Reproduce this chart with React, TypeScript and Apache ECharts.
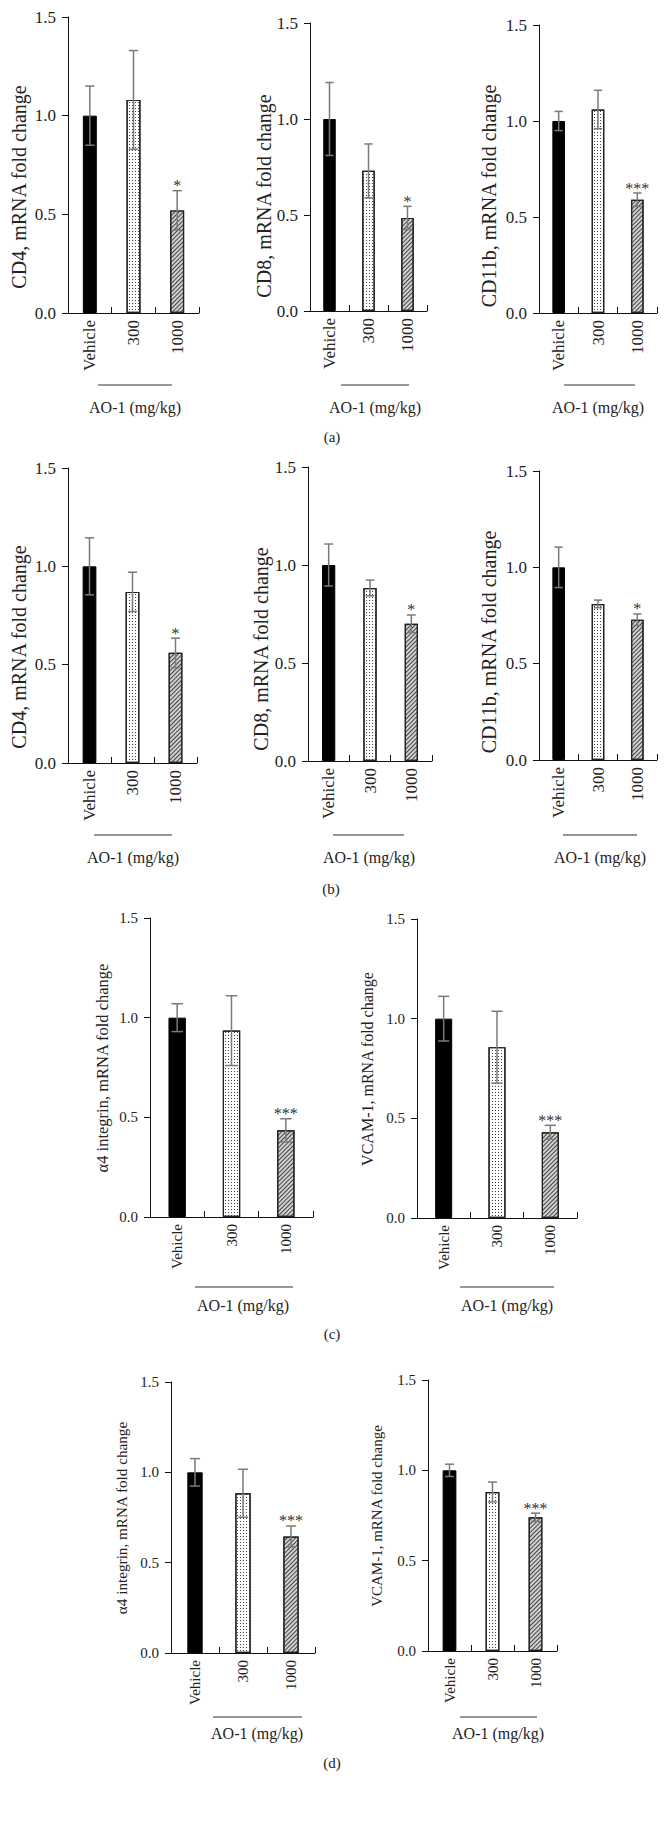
import React, { useEffect, useRef } from "react";
import * as echarts from "echarts";

// ---------- data ----------
const categories = ["Vehicle", "300", "1000"];
const yTickValues = [0, 0.5, 1.0, 1.5];
const groupLabel = "AO-1 (mg/kg)";
const panelLetters = ["(a)", "(b)", "(c)", "(d)"];

// (a)
const aCD4Mean = [1.0, 1.08, 0.52];
const aCD4Err = [0.15, 0.25, 0.1];
const aCD4Stars = ["", "", "*"];
const aCD8Mean = [1.0, 0.73, 0.485];
const aCD8Err = [0.19, 0.14, 0.06];
const aCD8Stars = ["", "", "*"];
const aCD11bMean = [1.0, 1.06, 0.59];
const aCD11bErr = [0.05, 0.1, 0.035];
const aCD11bStars = ["", "", "***"];
// (b)
const bCD4Mean = [1.0, 0.87, 0.56];
const bCD4Err = [0.145, 0.1, 0.075];
const bCD4Stars = ["", "", "*"];
const bCD8Mean = [1.0, 0.883, 0.7];
const bCD8Err = [0.107, 0.04, 0.045];
const bCD8Stars = ["", "", "*"];
const bCD11bMean = [1.0, 0.81, 0.728];
const bCD11bErr = [0.105, 0.02, 0.03];
const bCD11bStars = ["", "", "*"];
// (c)
const cA4Mean = [1.0, 0.935, 0.435];
const cA4Err = [0.07, 0.175, 0.058];
const cA4Stars = ["", "", "***"];
const cVCAMMean = [1.0, 0.857, 0.43];
const cVCAMErr = [0.112, 0.18, 0.035];
const cVCAMStars = ["", "", "***"];
// (d)
const dA4Mean = [1.0, 0.884, 0.645];
const dA4Err = [0.076, 0.133, 0.058];
const dA4Stars = ["", "", "***"];
const dVCAMMean = [1.0, 0.88, 0.74];
const dVCAMErr = [0.034, 0.055, 0.023];
const dVCAMStars = ["", "", "***"];

// ---------- layout ----------
const FONT = "'Liberation Serif', 'Times New Roman', serif";
const TEXT = "#222";

const panels = [
  { title: "CD4, mRNA fold change", mean: aCD4Mean, err: aCD4Err, stars: aCD4Stars,
    grid: { left: 68, top: 17, width: 131, height: 296 }, tp: [19, 187], ts: 20, fs: 17,
    ao: { x1: 98, x2: 172, y: 385, lx: 135, ly: 407 } },
  { title: "CD8, mRNA fold change", mean: aCD8Mean, err: aCD8Err, stars: aCD8Stars,
    grid: { left: 310, top: 23, width: 117, height: 288 }, tp: [264, 196], ts: 20, fs: 17,
    ao: { x1: 341, x2: 409, y: 385, lx: 375, ly: 407 } },
  { title: "CD11b, mRNA fold change", mean: aCD11bMean, err: aCD11bErr, stars: aCD11bStars,
    grid: { left: 539, top: 25, width: 118, height: 288 }, tp: [489, 196], ts: 20, fs: 17,
    ao: { x1: 564, x2: 635, y: 385, lx: 598, ly: 407 } },
  { title: "CD4, mRNA fold change", mean: bCD4Mean, err: bCD4Err, stars: bCD4Stars,
    grid: { left: 68, top: 468, width: 129, height: 295 }, tp: [19, 647], ts: 20, fs: 17,
    ao: { x1: 94, x2: 172, y: 835, lx: 133, ly: 857 } },
  { title: "CD8, mRNA fold change", mean: bCD8Mean, err: bCD8Err, stars: bCD8Stars,
    grid: { left: 308, top: 467, width: 124, height: 294 }, tp: [261, 649], ts: 20, fs: 17,
    ao: { x1: 333, x2: 404, y: 835, lx: 369, ly: 857 } },
  { title: "CD11b, mRNA fold change", mean: bCD11bMean, err: bCD11bErr, stars: bCD11bStars,
    grid: { left: 539, top: 471, width: 118, height: 289 }, tp: [489, 642], ts: 20, fs: 17,
    ao: { x1: 563, x2: 637, y: 835, lx: 600, ly: 857 } },
  { title: "α4 integrin, mRNA fold change", mean: cA4Mean, err: cA4Err, stars: cA4Stars,
    grid: { left: 150, top: 918, width: 163, height: 299 }, tp: [102, 1068], ts: 16.5, fs: 15,
    ao: { x1: 195, x2: 293, y: 1287, lx: 243, ly: 1305 } },
  { title: "VCAM-1, mRNA fold change", mean: cVCAMMean, err: cVCAMErr, stars: cVCAMStars,
    grid: { left: 417, top: 919, width: 160, height: 299 }, tp: [367, 1069], ts: 16, fs: 15,
    ao: { x1: 460, x2: 554, y: 1287, lx: 507, ly: 1305 } },
  { title: "α4 integrin, mRNA fold change", mean: dA4Mean, err: dA4Err, stars: dA4Stars,
    grid: { left: 171, top: 1382, width: 144, height: 271 }, tp: [121, 1518], ts: 15.2, fs: 15,
    ao: { x1: 213, x2: 302, y: 1717, lx: 257, ly: 1733 } },
  { title: "VCAM-1, mRNA fold change", mean: dVCAMMean, err: dVCAMErr, stars: dVCAMStars,
    grid: { left: 428, top: 1380, width: 129, height: 271 }, tp: [377, 1516], ts: 15, fs: 15,
    ao: { x1: 460, x2: 537, y: 1717, lx: 498, ly: 1733 } },
];
const letterPos = [
  [332, 437],
  [331, 889],
  [332, 1334],
  [332, 1763],
];

const dotDecal = {
  symbol: "rect",
  symbolSize: 1,
  dashArrayX: [1, 2],
  dashArrayY: [1, 2],
  color: "#444",
  backgroundColor: "#ffffff",
};
const hatchDecal = {
  symbol: "rect",
  symbolSize: 1,
  dashArrayX: [1, 0],
  dashArrayY: [1, 2],
  rotation: -Math.PI / 4,
  color: "#444",
  backgroundColor: "#e6e6e6",
};
const barStyles = [
  { color: "#000000", borderColor: "#000", borderWidth: 1 },
  { color: "#ffffff", borderColor: "#222", borderWidth: 1.2, decal: dotDecal },
  { color: "#d0d0d0", borderColor: "#222", borderWidth: 1.2, decal: hatchDecal },
];

function buildOption() {
  const grid: any[] = [];
  const xAxis: any[] = [];
  const yAxis: any[] = [];
  const series: any[] = [];
  const graphic: any[] = [];

  panels.forEach((p, i) => {
    grid.push({ ...p.grid, containLabel: false });
    xAxis.push({
      type: "category",
      gridIndex: i,
      data: categories,
      boundaryGap: true,
      axisLine: { lineStyle: { color: "#111", width: 1 } },
      axisTick: { show: true, inside: true, length: 6, interval: 0, lineStyle: { color: "#111" } },
      axisLabel: { rotate: 90, margin: 7, interval: 0, color: TEXT, fontFamily: FONT, fontSize: p.fs },
      splitLine: { show: false },
    });
    yAxis.push({
      type: "value",
      gridIndex: i,
      min: yTickValues[0],
      max: yTickValues[yTickValues.length - 1],
      interval: yTickValues[1] - yTickValues[0],
      axisLine: { show: true, lineStyle: { color: "#111", width: 1 } },
      axisTick: { show: true, length: 6, lineStyle: { color: "#111" } },
      axisLabel: {
        margin: 12,
        color: TEXT,
        fontFamily: FONT,
        fontSize: p.fs,
        formatter: (v: number) => v.toFixed(1),
      },
      splitLine: { show: false },
    });
    series.push({
      type: "bar",
      xAxisIndex: i,
      yAxisIndex: i,
      barWidth: "32%",
      data: p.mean.map((v, k) => ({ value: v, itemStyle: barStyles[k] })),
      z: 2,
    });
    const errData = p.mean.map((v, k) => [k, v - p.err[k], v + p.err[k]]);
    const stars = p.stars;
    series.push({
      type: "custom",
      xAxisIndex: i,
      yAxisIndex: i,
      z: 5,
      data: errData,
      encode: { x: 0, y: [1, 2] },
      renderItem: (params: any, api: any) => {
        const idx = api.value(0);
        const lo = api.value(1);
        const hi = api.value(2);
        const top = api.coord([idx, hi]);
        const bot = api.coord([idx, lo]);
        const band = api.size([1, 0])[0];
        const hw = band * 0.32 * 0.33;
        const ls = { stroke: "#7a7a7a", lineWidth: 1.5 };
        const children: any[] = [
          { type: "line", shape: { x1: top[0], y1: top[1], x2: bot[0], y2: bot[1] }, style: ls },
          { type: "line", shape: { x1: top[0] - hw, y1: top[1], x2: top[0] + hw, y2: top[1] }, style: ls },
          { type: "line", shape: { x1: bot[0] - hw, y1: bot[1], x2: bot[0] + hw, y2: bot[1] }, style: ls },
        ];
        const s = stars[params.dataIndex];
        if (s) {
          children.push({
            type: "text",
            style: {
              text: s,
              x: top[0],
              y: top[1] + 3,
              align: "center",
              verticalAlign: "bottom",
              fontFamily: FONT,
              fontSize: 16,
              fill: "#333",
            },
          });
        }
        return { type: "group", children };
      },
    });

    // y-axis title
    graphic.push({
      type: "text",
      x: p.tp[0],
      y: p.tp[1],
      rotation: Math.PI / 2,
      style: {
        text: p.title,
        align: "center",
        verticalAlign: "middle",
        fontFamily: FONT,
        fontSize: p.ts,
        fill: TEXT,
      },
    });
    // group line + label
    graphic.push({
      type: "line",
      shape: { x1: p.ao.x1, y1: p.ao.y, x2: p.ao.x2, y2: p.ao.y },
      style: { stroke: "#333", lineWidth: 1.2 },
    });
    graphic.push({
      type: "text",
      x: p.ao.lx,
      y: p.ao.ly,
      style: {
        text: groupLabel,
        align: "center",
        verticalAlign: "middle",
        fontFamily: FONT,
        fontSize: 16,
        fill: TEXT,
      },
    });
  });

  panelLetters.forEach((t, i) => {
    graphic.push({
      type: "text",
      x: letterPos[i][0],
      y: letterPos[i][1],
      style: { text: t, align: "center", verticalAlign: "middle", fontFamily: FONT, fontSize: 15, fill: TEXT },
    });
  });

  return {
    animation: false,
    backgroundColor: "#ffffff",
    grid,
    xAxis,
    yAxis,
    series,
    graphic,
  };
}

export default function App() {
  const ref = useRef<HTMLDivElement>(null);
  useEffect(() => {
    if (!ref.current) return;
    const chart = echarts.init(ref.current, undefined, { renderer: "svg" });
    chart.setOption(buildOption() as any);
    return () => chart.dispose();
  }, []);
  return (
    <div
      ref={ref}
      style={{ position: "absolute", left: 0, top: 0, width: 668, height: 1841, background: "#fff" }}
    />
  );
}
